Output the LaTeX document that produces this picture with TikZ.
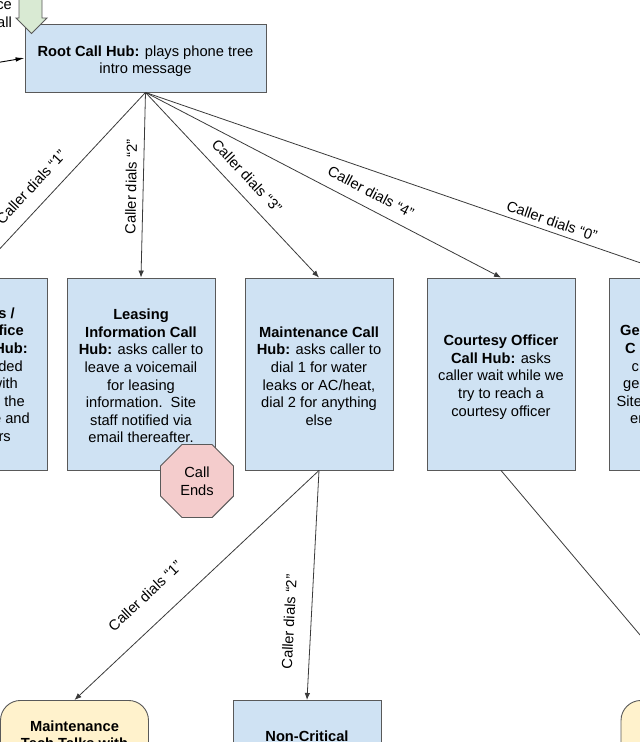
\documentclass[tikz,border=0pt]{standalone}
\usepackage{fontspec}
\setmainfont{Liberation Sans}
\usetikzlibrary{arrows.meta,shapes.geometric}
\definecolor{hubblue}{HTML}{CFE2F3}
\definecolor{talkyellow}{HTML}{FFF2CC}
\definecolor{endpink}{HTML}{F4CCCC}
\definecolor{arrowgreen}{HTML}{D9EAD3}
\definecolor{edgegray}{HTML}{595959}
\definecolor{linegray}{HTML}{3A3A3A}
\newcommand\hubfont{\fontsize{14.67}{17.6}\selectfont}
\newcommand\hubstrut[1]{\rule{0pt}{#1}}
\begin{document}
\begin{tikzpicture}[x=1pt,y=-1pt,
  hub/.style={draw=edgegray, fill=hubblue, line width=0.9pt, minimum width=148pt,
    minimum height=192pt, align=center, inner sep=0pt, font=\hubfont},
  talk/.style={draw=edgegray, fill=talkyellow, line width=0.9pt, rounded corners=20pt,
    minimum width=148pt, minimum height=150pt, inner sep=0pt},
  conn/.style={draw=linegray, line width=0.8pt, -{Latex[length=7pt,width=5.5pt]}},
  lbl/.style={font=\hubfont, inner sep=0pt},
  frag/.style={font=\hubfont, inner sep=0pt},
]
\useasboundingbox (0,0) rectangle (640,742);
\clip (0,0) rectangle (640,742);

% top-left cropped text
\node[frag, anchor=base east] (tl1) at (12,9.5) {ce};
\node[frag, anchor=base east] (tl2) at (12,27.1) {all};

% root hub
\node[hub, minimum width=241pt, minimum height=68pt] (root) at (145.5,58)
  {\hubstrut{16.7pt}\textbf{Root Call Hub:} plays phone tree\\intro message};

% incoming connector from left
\coordinate (inL) at (-5,63);
\draw[draw=black, line width=0.9pt, -{Latex[length=9pt,width=4.5pt]}] (inL) -- (root.west);

% green block arrow
\draw[draw=edgegray, fill=arrowgreen, line width=0.9pt]
  (19,-5) -- (42,-5) -- (42,18) -- (47,18) -- (31.5,33.5) -- (16,18) -- (19,18) -- cycle;

% second row hubs
\node[hub] (hubA) at (-27,374) {};
\node[hub] (leasing) at (141,374)
  {\hubstrut{14.7pt}\textbf{Leasing}\\\textbf{Information Call}\\\textbf{Hub:} asks caller to\\leave a voicemail\\for leasing\\information.\ \ Site\\staff notified via\\email thereafter.};
\node[hub] (maint) at (319,374)
  {\hubstrut{14.7pt}\textbf{Maintenance Call}\\\textbf{Hub:} asks caller to\\dial 1 for water\\leaks or AC/heat,\\dial 2 for anything\\else};
\node[hub] (courtesy) at (501,374)
  {\hubstrut{16.7pt}\textbf{Courtesy Officer}\\\textbf{Call Hub:} asks\\caller wait while we\\try to reach a\\courtesy officer};
\node[hub] (general) at (683,374) {};

% cropped text of left hub
\node[frag, anchor=base east] (a1) at (15,318.3) {\textbf{s /}};
\node[frag, anchor=base east] (a2) at (24,335.9) {\textbf{fice}};
\node[frag, anchor=base east] (a3) at (28,353.5) {\textbf{Hub:}};
\node[frag, anchor=base east] (a4) at (23,371.1) {ded};
\node[frag, anchor=base east] (a5) at (18,388.7) {with};
\node[frag, anchor=base east] (a6) at (25,406.3) {the};
\node[frag, anchor=base east] (a7) at (30,423.9) {e and};
\node[frag, anchor=base east] (a8) at (11,441.5) {rs};

% cropped text of right hub
\node[frag, anchor=base west] (g1) at (620,335.9) {\textbf{Ge}};
\node[frag, anchor=base west] (g2) at (625,353.5) {\textbf{C}};
\node[frag, anchor=base west] (g3) at (631.5,371.1) {c};
\node[frag, anchor=base west] (g4) at (623,388.7) {ge};
\node[frag, anchor=base west] (g5) at (616.5,406.3) {Site};
\node[frag, anchor=base west] (g6) at (630,423.9) {er};

% call ends octagon
\node[regular polygon, regular polygon sides=8, minimum size=79pt, draw=edgegray,
  fill=endpink, line width=0.9pt, inner sep=0pt, align=center, font=\hubfont]
  (ends) at (197,481) {Call\\Ends};

% bottom row
\node[talk, anchor=north] (tech) at (74.5,700) {};
\node[draw=edgegray, fill=hubblue, line width=0.9pt, minimum width=148pt,
  minimum height=150pt, anchor=north] (noncrit) at (307,700) {};
\node[talk, anchor=north] (rtalk) at (695,700) {};
\node[frag, anchor=base] (t1) at (74.5,731.3) {\textbf{Maintenance}};
\node[frag, anchor=base] (t2) at (74.5,748.9) {\textbf{Tech Talks with}};
\node[frag, anchor=base] (n1) at (307,741.5) {\textbf{Non-Critical}};

% connectors from root
\draw[conn] (root.south) -- (hubA.north);
\draw[conn] (root.south) -- (leasing.north);
\draw[conn] (root.south) -- (maint.north);
\draw[conn] (root.south) -- (courtesy.north);
\draw[conn] (root.south) -- (general.north);

% connectors from maintenance / courtesy
\draw[conn] (maint.south) -- (tech.north);
\draw[conn] (maint.south) -- (noncrit.north);
\draw[conn] (courtesy.south) -- (rtalk.north);

% labels
\node[lbl, rotate=47.2] (d1) at (31,187) {Caller dials “1”};
\node[lbl, rotate=89] (d2) at (131,187) {Caller dials “2”};
\node[lbl, rotate=-46.9] (d3) at (247,176) {Caller dials “3”};
\node[lbl, rotate=-27.6] (d4) at (371,192) {Caller dials “4”};
\node[lbl, rotate=-19.1] (d0) at (552,221) {Caller dials “0”};
\node[lbl, rotate=43.2] (m1) at (145,596) {Caller dials “1”};
\node[lbl, rotate=87] (m2) at (289,622) {Caller dials “2”};
\end{tikzpicture}
\end{document}
